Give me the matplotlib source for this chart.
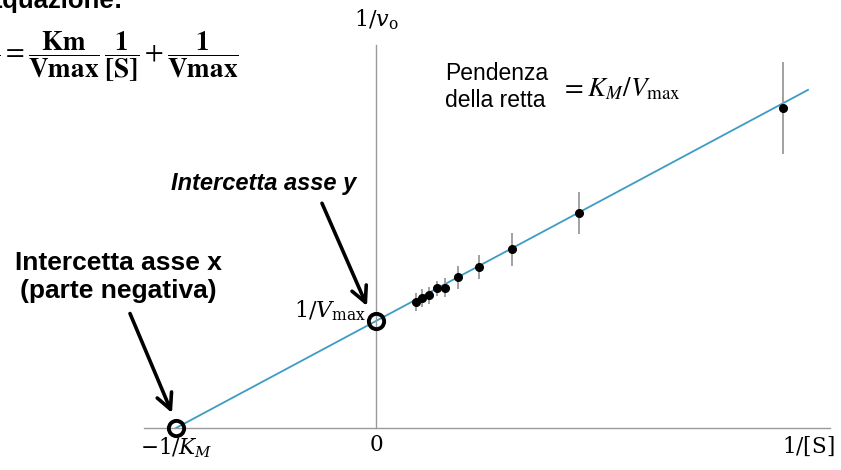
import numpy as np
import matplotlib
matplotlib.use("Agg")
import matplotlib.pyplot as plt

# dati (unità: 1/Km = 1, 1/Vmax = 1)
Km = 1.0
Vmax = 1.0
inv_S = [0.2, 0.2315, 0.2665, 0.3035, 0.345, 0.41, 0.5135, 0.68, 1.0165, 2.035]
inv_v = [1.178, 1.212, 1.24, 1.305, 1.31, 1.408, 1.507, 1.67, 2.006, 2.99]
err_v = [0.08, 0.085, 0.08, 0.07, 0.09, 0.11, 0.11, 0.155, 0.195, 0.43]
x_end = 2.16

W, H = 841, 470


def fx(px):
    return px / W


def fy(py):
    return 1 - py / H


fig = plt.figure(figsize=(W / 100, H / 100), dpi=100)
ax = fig.add_axes([0, 0, 1, 1])
ax.set_xlim(-1.88, 2.325)
ax.set_ylim(-0.3925, 4.0)

# assi
for s in ['top', 'right']:
    ax.spines[s].set_visible(False)
ax.spines['left'].set_position(('data', 0))
ax.spines['bottom'].set_position(('data', 0))
ax.spines['left'].set_bounds(0, 3.58)
ax.spines['bottom'].set_bounds(-1.16, 2.27)
for s in ['left', 'bottom']:
    ax.spines[s].set_color('#9a9a9a')
    ax.spines[s].set_linewidth(1.0)
ax.set_yticks([])
ax.set_xticks([-1 / Km, 0, x_end])
ax.set_xticklabels([r'$-1/K_M$', r'$0$', r'$1/[\mathrm{S}]$'])
ax.tick_params(axis='x', length=0, pad=5, labelsize=15.5)
for lab in ax.get_xticklabels():
    lab.set_math_fontfamily('dejavuserif')

# retta di Lineweaver-Burk
xl = np.array([-1 / Km, x_end])
ax.plot(xl, Km / Vmax * xl + 1 / Vmax, color='#3d9cc4', lw=1.3, zorder=2)

# punti sperimentali
ax.errorbar(inv_S, inv_v, yerr=err_v, fmt='o', color='black', ms=5.5,
            ecolor='#9a9a9a', elinewidth=1.3, capsize=0, zorder=3)

# intercette
ax.plot([-1 / Km, 0], [0, 1 / Vmax], 'o', ms=11, mfc='none', mec='black',
        mew=2.8, zorder=4)

# etichette asse y
ax.text(0, 3.70, r'$1/v_\mathrm{o}$', ha='center', va='bottom', fontsize=16,
        math_fontfamily='dejavuserif')
ax.text(-0.05, 0.98, r'$1/V_\mathrm{max}$', ha='right', va='bottom', fontsize=16,
        math_fontfamily='dejavuserif')

# pendenza
fig.text(fx(445), fy(87), 'Pendenza\ndella retta', ha='left', va='center',
         fontsize=16.5, family='Liberation Sans', linespacing=1.25)
fig.text(fx(561), fy(89), r'$= K_M/V_\mathrm{max}$', ha='left', va='center',
         fontsize=19.5, math_fontfamily='stix')

# equazione (tagliata a sinistra)
fig.text(fx(123), fy(8), 'Equazione:', ha='right', va='baseline', fontsize=18.5,
         fontweight='bold', family='Liberation Sans')
fig.text(fx(239), fy(57),
         r'$\dfrac{\mathbf{1}}{\mathbf{v}} = \dfrac{\mathbf{Km}}{\mathbf{Vmax}}\,'
         r'\dfrac{\mathbf{1}}{\mathbf{[S]}}+\dfrac{\mathbf{1}}{\mathbf{Vmax}}$',
         ha='right', va='center', fontsize=19.5, math_fontfamily='stix')

# frecce
fig.text(fx(264), fy(183), 'Intercetta asse y', ha='center', va='center',
         fontsize=17, fontweight='bold', fontstyle='italic',
         family='Liberation Sans')
ax.annotate('', xy=(-0.045, 1.14), xytext=(-0.27, 2.1),
            arrowprops=dict(arrowstyle='->', lw=2.6, color='black',
                            mutation_scale=28, shrinkA=0, shrinkB=0))
fig.text(fx(118), fy(277), 'Intercetta asse x\n(parte negativa)', ha='center',
         va='center', fontsize=19, fontweight='bold', family='Liberation Sans',
         linespacing=1.25)
ax.annotate('', xy=(-1.02, 0.14), xytext=(-1.23, 1.07),
            arrowprops=dict(arrowstyle='->', lw=2.6, color='black',
                            mutation_scale=28, shrinkA=0, shrinkB=0))

fig.savefig('out.png', dpi=100, facecolor='white')
